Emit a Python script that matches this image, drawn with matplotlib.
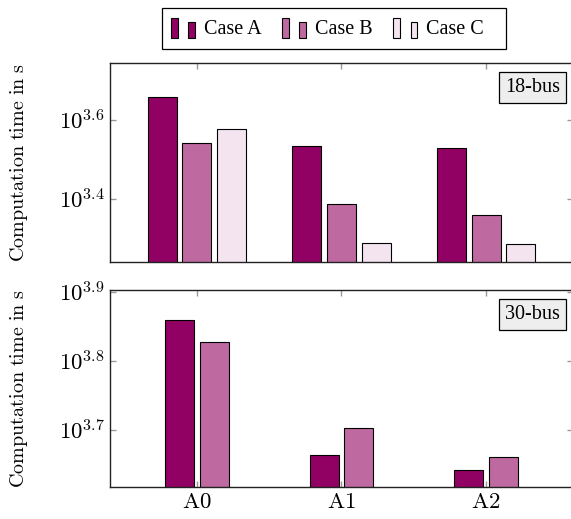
import matplotlib
matplotlib.use('Agg')
import numpy as np
import matplotlib.pyplot as plt
from matplotlib.patches import Rectangle
from matplotlib.legend_handler import HandlerBase

plt.rcParams.update({'font.family': 'Liberation Serif', 'font.size': 14.5,
                     'mathtext.fontset': 'cm'})

groups = ["A0", "A1", "A2"]
cases = ["Case A", "Case B", "Case C"]
colors = ["#910063", "#BE69A0", "#F3E4EF"]

# computation time, given as log10(seconds)
log_18bus = {
    "Case A": [3.658, 3.535, 3.528],
    "Case B": [3.541, 3.387, 3.359],
    "Case C": [3.577, 3.288, 3.286],
}
log_30bus = {
    "Case A": [3.860, 3.663, 3.641],
    "Case B": [3.828, 3.703, 3.661],
}

ylim_18 = (3.2405, 3.744)
ylim_30 = (3.616, 3.903)
yticks_18 = [3.4, 3.6]
yticks_30 = [3.7, 3.8, 3.9]


class TwoBarHandler(HandlerBase):
    def create_artists(self, legend, orig_handle, xdescent, ydescent,
                       width, height, fontsize, trans):
        fc = orig_handle.get_facecolor()
        w = width * 0.26
        r1 = Rectangle((-xdescent, -ydescent), w, height,
                       facecolor=fc, edgecolor='black', linewidth=0.8, transform=trans)
        r2 = Rectangle((-xdescent + width * 0.68, -ydescent), w, height * 0.78,
                       facecolor=fc, edgecolor='black', linewidth=0.8, transform=trans)
        return [r1, r2]


fig = plt.figure(figsize=(5.71, 5.19), dpi=100)
left, width = 0.1926, 0.8109
ax1 = fig.add_axes([left, 0.4952, width, 0.3834])
ax2 = fig.add_axes([left, 0.0607, width, 0.3800])

x = np.arange(len(groups))
bar_w = 0.2
step = 0.239


def draw_panel(ax, data, ylim, yticks, tag):
    n = len(data)
    handles = []
    for i, case in enumerate(data):
        offs = (i - (n - 1) / 2) * step
        h = ax.bar(x + offs, [10 ** v - 1 for v in data[case]], bar_w, bottom=1,
                   color=colors[i], edgecolor='black', linewidth=0.8,
                   label=case, zorder=2)
        handles.append(h)
    ax.set_yscale('log')
    ax.set_ylim(10 ** ylim[0], 10 ** ylim[1])
    ax.set_xlim(-0.6, 2.6)
    ax.set_yticks([10 ** t for t in yticks])
    ax.set_yticklabels([r'$10^{%.1f}$' % t for t in yticks])
    ax.yaxis.set_minor_locator(matplotlib.ticker.NullLocator())
    ax.set_xticks(x)
    ax.tick_params(direction='in', length=4, color='#999999', width=1.0,
                   top=True, right=True, labelsize=16.5)
    for s in ax.spines.values():
        s.set_color('#222222')
        s.set_linewidth(1.0)
    ax.set_ylabel(r'$\mathrm{Computation\ time\ in\ s}$', fontsize=14.5)
    ax.yaxis.set_label_coords(-0.173, 0.5)
    ax.text(0.972, 0.925, tag, transform=ax.transAxes, ha='right', va='top',
            fontsize=14.5, zorder=5,
            bbox=dict(boxstyle='square,pad=0.3', facecolor='#EEEEEE',
                      edgecolor='black', linewidth=0.9))
    return handles


handles = draw_panel(ax1, log_18bus, ylim_18, yticks_18, "18-bus")
draw_panel(ax2, log_30bus, ylim_30, yticks_30, "30-bus")
ax1.set_xticklabels([])
ax2.set_xticklabels([r'$\mathrm{%s}$' % g for g in groups])

fig.legend(handles=[h.patches[0] for h in handles], labels=cases,
           loc='center left', bbox_to_anchor=(171 / 571, 1 - 28.5 / 519), ncol=3,
           handler_map={Rectangle: TwoBarHandler()},
           handlelength=1.25, handleheight=1.15, handletextpad=0.38,
           columnspacing=1.03, frameon=False, borderpad=0, borderaxespad=0,
           fontsize=14.5)
# legend frame
fig.patches.append(Rectangle((162 / 571, 1 - 49 / 519), 344 / 571, 41 / 519,
                             transform=fig.transFigure, fill=False,
                             edgecolor='black', linewidth=0.9))

fig.savefig("out.png", dpi=100)
